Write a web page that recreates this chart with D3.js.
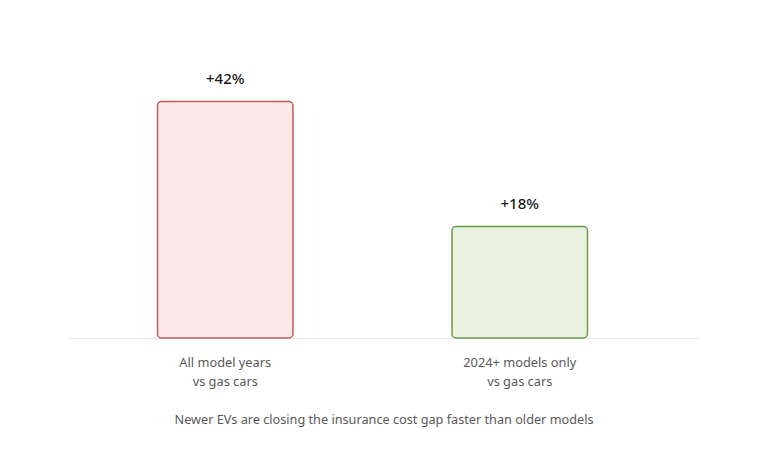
<!DOCTYPE html>
<html>
<head>
<meta charset="utf-8">
<script src="https://cdn.jsdelivr.net/npm/d3@7"></script>
<style>
  body { margin: 0; background: #fff; }
  text { font-family: "Segoe UI", "Noto Sans", "Open Sans", sans-serif; }
</style>
</head>
<body>
<div id="chart"></div>
<script>
// data
var categories = ["All model years|vs gas cars", "2024+ models only|vs gas cars"];
var premiums = [42, 18];
var valueLabels = ["+42%", "+18%"];
var caption = "Newer EVs are closing the insurance cost gap faster than older models";

var svgWidth = 768;
var svgHeight = 452;
var baseY = 338;

var svg = d3.select("#chart")
  .append("svg")
  .attr("width", svgWidth)
  .attr("height", svgHeight);

var rows = categories.map(function(c, i) {
  return { cat: c, value: premiums[i], label: valueLabels[i], idx: i };
});

// scales
var x = d3.scaleBand()
  .domain(categories)
  .range([78, 667])
  .paddingInner(0.54)
  .paddingOuter(0.27);

var y = d3.scaleLinear()
  .domain([-3.4, 42])
  .range([baseY, 101.6]);

var fills = ["#fce9e9", "#eaf3df"];
var strokes = ["#c55a5a", "#6b9a4b"];

// baseline
svg.append("line")
  .attr("x1", 68)
  .attr("x2", 700)
  .attr("y1", baseY + 0.5)
  .attr("y2", baseY + 0.5)
  .attr("stroke", "#e6e6e6")
  .attr("stroke-width", 1.2);

// bars
svg.selectAll("rect.bar")
  .data(rows)
  .enter()
  .append("rect")
  .attr("class", "bar")
  .attr("x", d => x(d.cat))
  .attr("y", d => y(d.value))
  .attr("width", x.bandwidth())
  .attr("height", d => baseY - y(d.value))
  .attr("rx", 4)
  .attr("fill", d => fills[d.idx])
  .attr("stroke", d => strokes[d.idx])
  .attr("stroke-width", 1.5);

// value labels
svg.selectAll("text.val")
  .data(rows)
  .enter()
  .append("text")
  .attr("class", "val")
  .attr("x", d => x(d.cat) + x.bandwidth() / 2)
  .attr("y", d => y(d.value) - 17.5)
  .attr("text-anchor", "middle")
  .style("font-size", "15px")
  .style("font-weight", 500)
  .attr("fill", "#1a1a1a")
  .text(d => d.label);

// category labels
var catText = svg.selectAll("text.cat")
  .data(rows)
  .enter()
  .append("text")
  .attr("class", "cat")
  .attr("text-anchor", "middle")
  .style("font-size", "12.8px")
  .attr("fill", "#595959");

catText.selectAll("tspan")
  .data(d => d.cat.split("|").map(function(t) { return { t: t, cx: x(d.cat) + x.bandwidth() / 2 }; }))
  .enter()
  .append("tspan")
  .attr("x", d => d.cx)
  .attr("y", (d, i) => 367 + i * 19)
  .text(d => d.t);

// caption
svg.append("text")
  .attr("x", 384)
  .attr("y", 424)
  .attr("text-anchor", "middle")
  .style("font-size", "12.7px")
  .attr("fill", "#595959")
  .text(caption);
</script>
</body>
</html>
